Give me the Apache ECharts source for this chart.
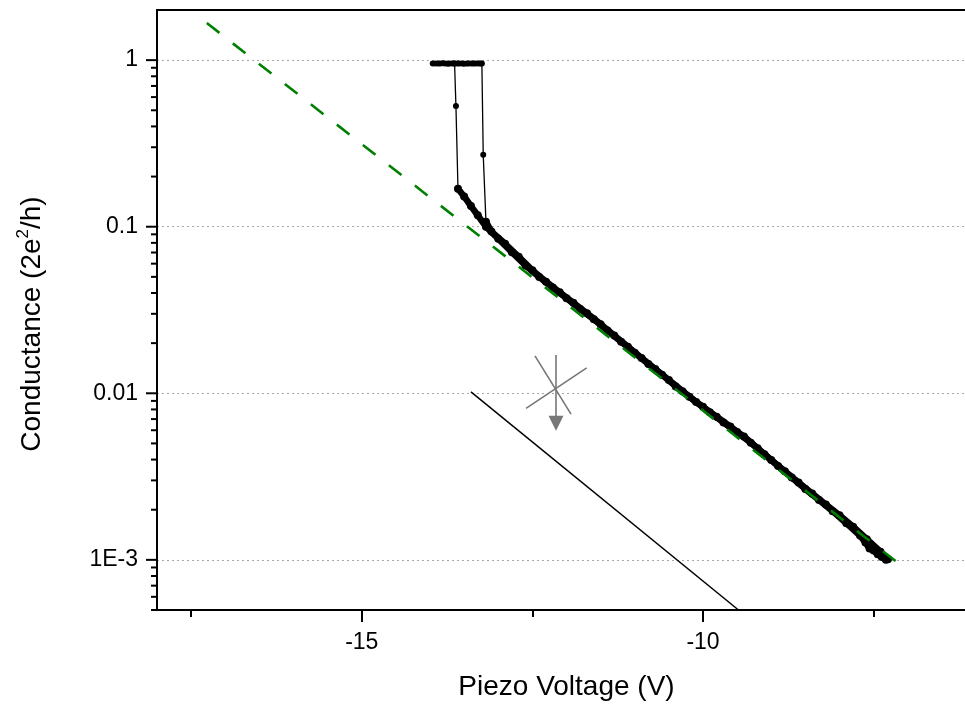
<!DOCTYPE html>
<html>
<head>
<meta charset="utf-8">
<script src="https://cdn.jsdelivr.net/npm/echarts@6/dist/echarts.min.js"></script>
<style>
  html, body { margin: 0; padding: 0; background: #fff; }
  #chart { width: 965px; height: 704px; }
</style>
</head>
<body>
<div id="chart"></div>
<script>
// Axis ranges
const X_MIN = -18, X_MAX = -6;
const Y_MIN = 5e-4, Y_MAX = 2;

// Tick values and labels
const xLabelValues = [-15, -10];
const xMinorTicks = [-17.5, -12.5, -7.5];
const yTickValues = [1e-3, 1e-2, 1e-1, 1];
const yTickLabels = ['1E-3', '0.01', '0.1', '1'];
const yMinorTicks = [
  5e-4, 6e-4, 7e-4, 8e-4, 9e-4,
  2e-3, 3e-3, 4e-3, 5e-3, 6e-3, 7e-3, 8e-3, 9e-3,
  2e-2, 3e-2, 4e-2, 5e-2, 6e-2, 7e-2, 8e-2, 9e-2,
  0.2, 0.3, 0.4, 0.5, 0.6, 0.7, 0.8, 0.9
];

// Contact plateau (~1 G0) shared by both sweeps
const plateauV = [-13.96, -13.92, -13.88, -13.85, -13.81, -13.78, -13.74, -13.71, -13.67, -13.64,
                  -13.60, -13.57, -13.53, -13.50, -13.46, -13.43, -13.39, -13.36, -13.33, -13.29, -13.26];
const plateauG = [0.955, 0.956, 0.954, 0.955, 0.957, 0.955, 0.953, 0.955, 0.956, 0.955,
                  0.954, 0.956, 0.955, 0.953, 0.955, 0.956, 0.955, 0.954, 0.955, 0.956, 0.955];

// Breaking jumps out of the plateau
const jumpAV = [-13.64, -13.62, -13.59];
const jumpAG = [0.955, 0.53, 0.169];
const jumpBV = [-13.24, -13.22, -13.18];
const jumpBG = [0.955, 0.27, 0.107];

// Tunnelling regime, sweep A
const curveAV = [-13.59, -13.50, -13.40, -13.30, -13.18, -13.00, -12.80, -12.60, -12.40, -12.20,
                 -12.00, -11.80, -11.60, -11.40, -11.20, -11.00, -10.80, -10.60, -10.40, -10.20,
                 -10.00, -9.80, -9.60, -9.40, -9.20, -9.00, -8.80, -8.60, -8.40, -8.20,
                 -8.00, -7.80, -7.60, -7.40, -7.29];
const curveAG = [0.169, 0.152, 0.133, 0.117, 0.100, 0.0847, 0.0703, 0.0585, 0.0499, 0.0431,
                 0.0372, 0.0321, 0.0278, 0.0238, 0.0204, 0.0175, 0.0150, 0.0129, 0.0110, 0.00953,
                 0.00830, 0.00723, 0.00631, 0.00550, 0.00468, 0.00398, 0.00340, 0.00291, 0.00250, 0.00215,
                 0.00185, 0.00158, 0.00133, 0.00112, 0.00101];

// Tunnelling regime, sweep B
const curveBV = [-13.18, -13.10, -12.90, -12.70, -12.50, -12.30, -12.10, -11.90, -11.70, -11.50,
                 -11.30, -11.10, -10.90, -10.70, -10.50, -10.30, -10.10, -9.90, -9.70, -9.50,
                 -9.30, -9.10, -8.90, -8.70, -8.50, -8.30, -8.10, -7.90, -7.70, -7.62,
                 -7.56, -7.50, -7.44, -7.38, -7.32];
const curveBG = [0.107, 0.0935, 0.0790, 0.0660, 0.0548, 0.0468, 0.0404, 0.0349, 0.0302, 0.0260,
                 0.0222, 0.0190, 0.0163, 0.0140, 0.0120, 0.0103, 0.00885, 0.00770, 0.00668, 0.00585,
                 0.00505, 0.00430, 0.00366, 0.00312, 0.00266, 0.00229, 0.00196, 0.00166, 0.00140, 0.00127,
                 0.00117, 0.00114, 0.00108, 0.00104, 0.00100];

// Exponential fit (dashed green)
const fitV = [-17.27, -7.16];
const fitG = [1.67, 0.00097];

// Reference slope line
const slopeV = [-13.40, -9.48];
const slopeG = [0.0102, 5e-4];

// Crossed-out marker with downward arrow: three strokes
const starStrokes = [
  [[-12.154, 0.01695], [-12.154, 0.00662]],
  [[-12.462, 0.01679], [-11.934, 0.00750]],
  [[-11.704, 0.01422], [-12.593, 0.00812]]
];

const pairs = (xs, ys) => xs.map((x, i) => [x, ys[i]]);

const FONT = '"Liberation Sans", Arial, Helvetica, sans-serif';

function yTickRenderer(len) {
  return function (params, api) {
    const p = api.coord([api.value(0), api.value(1)]);
    return {
      type: 'line',
      shape: { x1: p[0] - len, y1: p[1], x2: p[0], y2: p[1] },
      style: { stroke: '#000', lineWidth: 2 }
    };
  };
}

const chart = echarts.init(document.getElementById('chart'), null, { renderer: 'canvas' });

chart.setOption({
  animation: false,
  backgroundColor: '#fff',
  grid: { left: 157, top: 10, right: -11, bottom: 94, containLabel: false, outerBoundsMode: 'none' },
  xAxis: [
    {
      type: 'value', min: X_MIN, max: X_MAX, position: 'bottom', z: 3,
      axisLine: { onZero: false, lineStyle: { color: '#000', width: 2 } },
      axisTick: { customValues: xLabelValues, length: 12, lineStyle: { color: '#000', width: 2 } },
      axisLabel: { customValues: xLabelValues, fontSize: 23, margin: 21, color: '#000', fontFamily: FONT },
      splitLine: { show: false },
      name: 'Piezo Voltage (V)', nameLocation: 'middle', nameGap: 63,
      nameTextStyle: { fontSize: 28, color: '#000', fontFamily: FONT }
    },
    {
      type: 'value', min: X_MIN, max: X_MAX, position: 'bottom', z: 3,
      axisLine: { show: false },
      axisTick: { customValues: xMinorTicks, length: 7, lineStyle: { color: '#000', width: 2 } },
      axisLabel: { show: false },
      splitLine: { show: false }
    },
    {
      type: 'value', min: X_MIN, max: X_MAX, position: 'top', z: 3,
      axisLine: { onZero: false, lineStyle: { color: '#000', width: 2 } },
      axisTick: { show: false },
      axisLabel: { show: false },
      splitLine: { show: false }
    }
  ],
  yAxis: {
    type: 'log', logBase: 10, min: Y_MIN, max: Y_MAX, z: 1,
    axisLine: { onZero: false, lineStyle: { color: '#000', width: 2 } },
    axisTick: { show: false },
    axisLabel: {
      showMinLabel: false, showMaxLabel: false,
      fontSize: 23, margin: 19, color: '#000', fontFamily: FONT,
      formatter: function (v) {
        const i = yTickValues.findIndex(t => Math.abs(Math.log10(t) - Math.log10(v)) < 1e-6);
        return i >= 0 ? yTickLabels[i] : '';
      }
    },
    splitLine: { show: true, lineStyle: { color: '#a8a8a8', width: 1, type: [2, 3] } },
    name: '{a|Conductance (2e}{sup|2}{a|/h)}', nameLocation: 'middle', nameGap: 108,
    nameTextStyle: {
      fontSize: 28, color: '#000', fontFamily: FONT, padding: [0, 28, 0, 0],
      rich: {
        a: { fontSize: 28, color: '#000', fontFamily: FONT, lineHeight: 34 },
        sup: { fontSize: 17, color: '#000', fontFamily: FONT, verticalAlign: 'top', lineHeight: 20 }
      }
    }
  },
  series: [
    {
      name: 'plateau', type: 'line', data: pairs(plateauV, plateauG), z: 4,
      lineStyle: { color: '#000', width: 4 }, itemStyle: { color: '#000' },
      symbol: 'circle', symbolSize: 6, showSymbol: true
    },
    {
      name: 'jump A', type: 'line', data: pairs(jumpAV, jumpAG), z: 4,
      lineStyle: { color: '#000', width: 1.3 }, itemStyle: { color: '#000' },
      symbol: 'circle', symbolSize: 6
    },
    {
      name: 'jump B', type: 'line', data: pairs(jumpBV, jumpBG), z: 4,
      lineStyle: { color: '#000', width: 1.3 }, itemStyle: { color: '#000' },
      symbol: 'circle', symbolSize: 6
    },
    {
      name: 'sweep A', type: 'line', data: pairs(curveAV, curveAG), z: 4,
      lineStyle: { color: '#000', width: 6.5 }, itemStyle: { color: '#000' },
      symbol: 'circle', symbolSize: 8
    },
    {
      name: 'sweep B', type: 'line', data: pairs(curveBV, curveBG), z: 4,
      lineStyle: { color: '#000', width: 6.5 }, itemStyle: { color: '#000' },
      symbol: 'circle', symbolSize: 8
    },
    {
      name: 'fit', type: 'line', data: pairs(fitV, fitG), z: 6,
      lineStyle: { color: '#008000', width: 2.6, type: [16, 17], cap: 'butt' },
      symbol: 'none'
    },
    {
      name: 'slope', type: 'line', data: pairs(slopeV, slopeG), z: 4,
      lineStyle: { color: '#000', width: 1.5 }, symbol: 'none'
    },
    {
      name: 'marker', type: 'lines', coordinateSystem: 'cartesian2d', z: 5,
      lineStyle: { color: '#777', width: 1.6, opacity: 1 },
      data: starStrokes.map((c, i) => ({
        coords: c,
        symbol: i === 0 ? ['none', 'triangle'] : ['none', 'none'],
        symbolSize: 15
      })),
      itemStyle: { color: '#777' }
    },
    {
      name: 'y major ticks', type: 'custom', z: 7, clip: false, silent: true,
      data: yTickValues.map(g => [X_MIN, g]),
      renderItem: yTickRenderer(11)
    },
    {
      name: 'y minor ticks', type: 'custom', z: 7, clip: false, silent: true,
      data: yMinorTicks.map(g => [X_MIN, g]),
      renderItem: yTickRenderer(6)
    }
  ]
});
</script>
</body>
</html>
